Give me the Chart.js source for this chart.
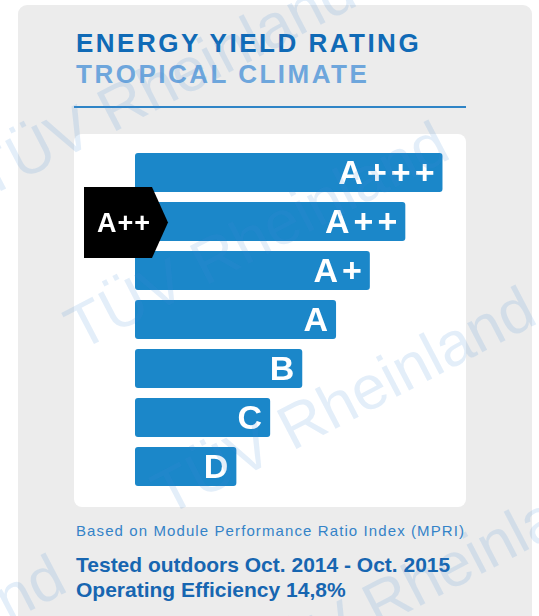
<!DOCTYPE html>
<html>
<head>
<meta charset="utf-8">
<script src="https://cdn.jsdelivr.net/npm/chart.js@4.4.1/dist/chart.umd.min.js"></script>
<style>
  html, body { margin:0; padding:0; background:#ffffff; width:539px; height:616px; overflow:hidden; }
  body { position:relative; font-family:"Liberation Sans", Arial, Helvetica, sans-serif; }
  #panel { position:absolute; left:18px; top:5px; width:514px; height:640px; background:#ececec; border-radius:9px; }
  .t { position:absolute; white-space:nowrap; margin:0; }
  #t1 { left:76px; top:30px; font-size:26px; line-height:26px; font-weight:bold; letter-spacing:2.5px; color:#106ab6; }
  #t2 { left:76px; top:61px; font-size:26px; line-height:26px; font-weight:bold; letter-spacing:2.5px; color:#6ea6dc; }
  #rule { position:absolute; left:74px; top:106px; width:392px; height:2px; background:#2f84c6; }
  #box { position:absolute; left:74px; top:134px; width:392px; height:373px; background:#ffffff; border-radius:8px; }
  #chartWrap { position:absolute; left:74px; top:134px; width:392px; height:373px; }
  #f1 { left:76px; top:523px; font-size:15px; line-height:15px; letter-spacing:1.1px; color:#3483c8; }
  #f2 { left:76px; top:554px; font-size:21px; line-height:21px; font-weight:bold; color:#1766b1; }
  #f3 { left:76px; top:579px; font-size:21px; line-height:21px; font-weight:bold; color:#1766b1; }
  .wm { position:absolute; white-space:nowrap; font-size:62px; line-height:62px; color:rgba(70,140,215,0.15);
        transform-origin:0 48px; transform:rotate(-27.5deg); pointer-events:none; font-family:"Liberation Sans", Arial, sans-serif; }
</style>
</head>
<body>
<div id="panel"></div>
<div class="t" id="t1">ENERGY YIELD RATING</div>
<div class="t" id="t2">TROPICAL CLIMATE</div>
<div id="rule"></div>
<div id="box"></div>
<div id="chartWrap"><canvas id="c" width="392" height="373"></canvas></div>
<div class="t" id="f1">Based on Module Performance Ratio Index (MPRI)</div>
<div class="t" id="f2">Tested outdoors Oct. 2014 - Oct. 2015</div>
<div class="t" id="f3">Operating Efficiency 14,8%</div>

<div class="wm" style="left:-15px; top:147px;">TÜV Rheinland</div>
<div class="wm" style="left:78px; top:300px;">TÜV Rheinland</div>
<div class="wm" style="left:165px; top:465px;">TÜV Rheinland</div>
<div class="wm" style="left:250px; top:642px;">TÜV Rheinland</div>
<div class="wm" style="left:-305px; top:733px;">TÜV Rheinland</div>

<script>
// ---- data ----
const categories = ['A+++', 'A++', 'A+', 'A', 'B', 'C', 'D'];
const barValues  = [9.1, 8, 6.95, 5.95, 4.95, 4, 3];
const ratedClass = 'A++';
const axisMin = 0;
const axisMax = 9.5;

const barColor = '#1b87c9';

const barLabelsPlugin = {
  id: 'barLabels',
  afterDatasetsDraw(chart) {
    const ctx = chart.ctx;
    const meta = chart.getDatasetMeta(0);
    ctx.save();
    ctx.fillStyle = '#ffffff';
    ctx.font = 'bold 34px "Liberation Sans", Arial, sans-serif';
    ctx.letterSpacing = '4px';
    ctx.textAlign = 'right';
    ctx.textBaseline = 'alphabetic';
    meta.data.forEach((bar, i) => {
      ctx.fillText(categories[i], bar.x - 4, bar.y + 11);
    });
    ctx.restore();
  }
};

const indicatorPlugin = {
  id: 'indicator',
  afterDatasetsDraw(chart) {
    const ctx = chart.ctx;
    const yScale = chart.scales.y;
    const idx = categories.indexOf(ratedClass);
    const cy = yScale.getPixelForValue(idx) + 1;
    const left = 10, bodyRight = 78, tip = 94, half = 35.5;
    ctx.save();
    ctx.fillStyle = '#000000';
    ctx.beginPath();
    ctx.moveTo(left, cy - half);
    ctx.lineTo(bodyRight, cy - half);
    ctx.lineTo(tip, cy);
    ctx.lineTo(bodyRight, cy + half);
    ctx.lineTo(left, cy + half);
    ctx.closePath();
    ctx.fill();
    ctx.fillStyle = '#ffffff';
    ctx.font = 'bold 27px "Liberation Sans", Arial, sans-serif';
    ctx.letterSpacing = '1px';
    ctx.textAlign = 'left';
    ctx.textBaseline = 'alphabetic';
    ctx.fillText(ratedClass, 23, cy + 9.5);
    ctx.restore();
  }
};

new Chart(document.getElementById('c'), {
  type: 'bar',
  data: {
    labels: categories,
    datasets: [{
      data: barValues,
      backgroundColor: barColor,
      borderWidth: 0,
      borderRadius: 3,
      borderSkipped: false,
      barPercentage: 0.8,
      categoryPercentage: 1.0
    }]
  },
  options: {
    indexAxis: 'y',
    responsive: false,
    animation: false,
    devicePixelRatio: 1,
    layout: { padding: { left: 61, right: 10, top: 14, bottom: 16 } },
    plugins: { legend: { display: false }, tooltip: { enabled: false }, title: { display: false } },
    scales: {
      x: { display: false, min: axisMin, max: axisMax, grid: { display: false } },
      y: { display: false, grid: { display: false } }
    }
  },
  plugins: [barLabelsPlugin, indicatorPlugin]
});
</script>
</body>
</html>
